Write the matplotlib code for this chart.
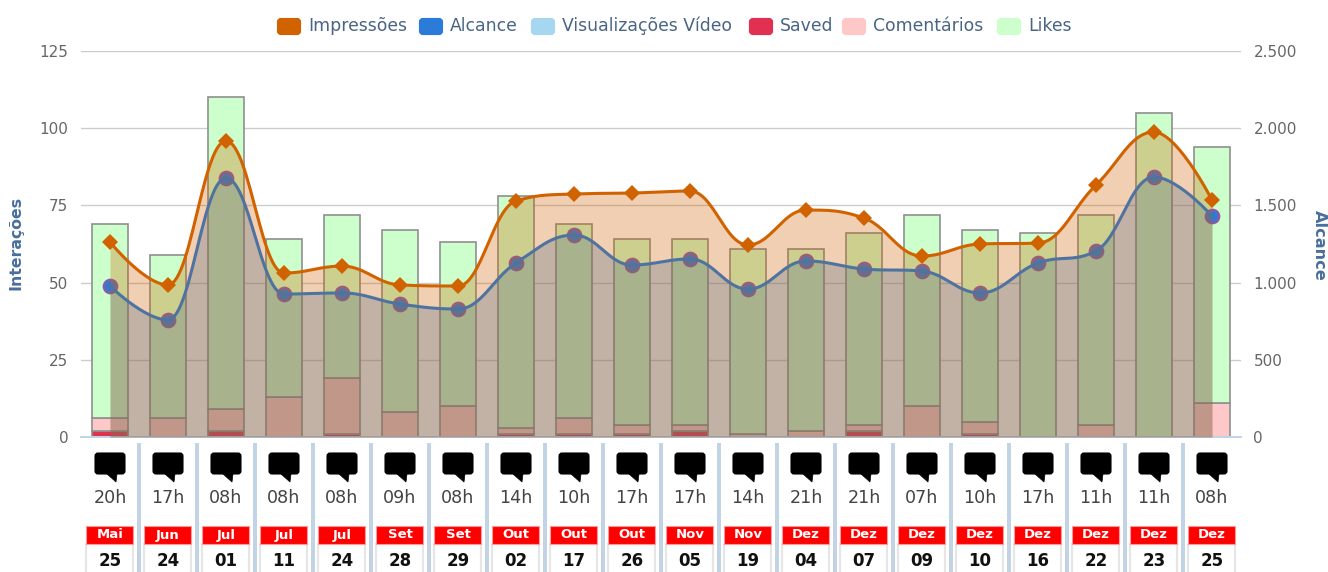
import numpy as np
import matplotlib
matplotlib.use("Agg")
import matplotlib.pyplot as plt
from matplotlib.patches import FancyBboxPatch, Polygon, Rectangle

saved = [2, 0, 2, 0, 1, 0, 0, 1, 1, 1, 2, 0, 0, 2, 0, 1, 0, 0, 0, 0]
comentarios = [4, 6, 7, 13, 18, 8, 10, 2, 5, 3, 2, 1, 2, 2, 10, 4, 0, 4, 0, 11]
likes = [63, 53, 101, 51, 53, 59, 53, 75, 63, 60, 60, 60, 59, 62, 62, 62, 66, 68, 105, 83]
impressoes = [1263, 985, 1917, 1062, 1107, 985, 978, 1529, 1574, 1580, 1593, 1244, 1470, 1418, 1172, 1250, 1256, 1632, 1975, 1535]
alcance = [978, 758, 1677, 926, 933, 861, 829, 1127, 1308, 1114, 1153, 958, 1140, 1088, 1075, 933, 1127, 1205, 1684, 1431]
horas = ["20h", "17h", "08h", "08h", "08h", "09h", "08h", "14h", "10h", "17h", "17h", "14h", "21h", "21h", "07h", "10h", "17h", "11h", "11h", "08h"]
meses = ["Mai", "Jun", "Jul", "Jul", "Jul", "Set", "Set", "Out", "Out", "Out", "Nov", "Nov", "Dez", "Dez", "Dez", "Dez", "Dez", "Dez", "Dez", "Dez"]
dias = ["25", "24", "01", "11", "24", "28", "29", "02", "17", "26", "05", "19", "04", "07", "09", "10", "16", "22", "23", "25"]
ticks_esq = [0, 25, 50, 75, 100, 125]
ticks_dir = [0, 500, 1000, 1500, 2000, 2500]
ticks_dir_txt = ["0", "500", "1.000", "1.500", "2.000", "2.500"]
legenda = [("Impressões", "#d16200", 277), ("Alcance", "#2b7bd9", 419), ("Visualizações Vídeo", "#a5d8f0", 531),
           ("Saved", "#e23050", 749), ("Comentários", "#ffc8c8", 842), ("Likes", "#ccffcc", 997)]

W, H = 1328, 572
L, R, T, B = 81, 1241, 51, 437


def spline(xs, ys, n=30):
    # same bezier smoothing as a highcharts spline series, overshoot limited
    xs = np.array(xs, dtype=float)
    ys = np.array(ys, dtype=float)
    left = [(x, y) for x, y in zip(xs, ys)]
    right = [(x, y) for x, y in zip(xs, ys)]
    for i in range(1, len(xs) - 1):
        lx = (1.5 * xs[i] + xs[i - 1]) / 2.5
        ly = (1.5 * ys[i] + ys[i - 1]) / 2.5
        rx = (1.5 * xs[i] + xs[i + 1]) / 2.5
        ry = (1.5 * ys[i] + ys[i + 1]) / 2.5
        c = (ry - ly) * (rx - xs[i]) / (rx - lx) + ys[i] - ry
        ly += c
        ry += c
        if ly > ys[i - 1] and ly > ys[i]:
            ly = max(ys[i - 1], ys[i])
            ry = 2 * ys[i] - ly
        elif ly < ys[i - 1] and ly < ys[i]:
            ly = min(ys[i - 1], ys[i])
            ry = 2 * ys[i] - ly
        if ry > ys[i + 1] and ry > ys[i]:
            ry = max(ys[i + 1], ys[i])
            ly = 2 * ys[i] - ry
        elif ry < ys[i + 1] and ry < ys[i]:
            ry = min(ys[i + 1], ys[i])
            ly = 2 * ys[i] - ry
        left[i] = (lx, ly)
        right[i] = (rx, ry)
    out_x, out_y = [], []
    t = np.linspace(0, 1, n)
    for i in range(len(xs) - 1):
        p0, p1, p2, p3 = (xs[i], ys[i]), right[i], left[i + 1], (xs[i + 1], ys[i + 1])
        out_x.extend((1 - t) ** 3 * p0[0] + 3 * (1 - t) ** 2 * t * p1[0] + 3 * (1 - t) * t ** 2 * p2[0] + t ** 3 * p3[0])
        out_y.extend((1 - t) ** 3 * p0[1] + 3 * (1 - t) ** 2 * t * p1[1] + 3 * (1 - t) * t ** 2 * p2[1] + t ** 3 * p3[1])
    return np.array(out_x), np.array(out_y)


fig = plt.figure(figsize=(W / 100, H / 100), dpi=100)
ax = fig.add_axes([L / W, 1 - B / H, (R - L) / W, (B - T) / H])
x = np.arange(len(saved))
s = np.array(saved)
c = np.array(comentarios)
l = np.array(likes)

borda = "#8f8f8f"
ax.bar(x, s, 0.62, color="#e23050", edgecolor=borda, linewidth=1.2, zorder=2)
ax.bar(x, c, 0.62, bottom=s, color="#ffc8c8", edgecolor=borda, linewidth=1.2, zorder=2)
ax.bar(x, l, 0.62, bottom=s + c, color="#ccffcc", edgecolor=borda, linewidth=1.2, zorder=2)
ax.set_xlim(-0.5, 19.5)
ax.set_ylim(0, 125)
ax.set_yticks(ticks_esq)
ax.set_xticks([])
ax.grid(axis="y", color="#cccccc", linewidth=1.0)
ax.set_axisbelow(True)
ax.tick_params(axis="y", length=0, pad=9, labelsize=11, labelcolor="#666666")
for sp in ax.spines.values():
    sp.set_visible(False)
ax.spines["bottom"].set_visible(True)
ax.spines["bottom"].set_color("#c3d3e6")
ax.spines["bottom"].set_linewidth(1.4)

ax2 = ax.twinx()
ax2.set_ylim(0, 2500)
ax2.set_yticks(ticks_dir)
ax2.set_yticklabels(ticks_dir_txt)
ax2.tick_params(axis="y", length=0, pad=9, labelsize=11, labelcolor="#666666")
for sp in ax2.spines.values():
    sp.set_visible(False)

xi, yi = spline(x, impressoes)
xa, ya = spline(x, alcance)
ax2.plot(x, alcance, "o", ms=9.5, color="#2b7bd9", mec="#8a5aa8", mew=1.8, zorder=2, clip_on=False)
ax2.fill_between(xi, 0, yi, color="#d16200", alpha=0.3, linewidth=0, zorder=3)
ax2.fill_between(xa, 0, ya, color="#55708a", alpha=0.3, linewidth=0, zorder=3)
ax2.plot(xa, ya, color="#4f73a0", linewidth=2.2, zorder=4)
ax2.plot(xi, yi, color="#d16200", linewidth=2.2, zorder=5)
ax2.plot(x, impressoes, "D", ms=8, color="#d16200", mew=0, zorder=6, clip_on=False)

# overlay in pixel coords for the legend and the boxes below the axis
ov = fig.add_axes([0, 0, 1, 1], facecolor="none")
ov.set_xlim(0, W)
ov.set_ylim(H, 0)
ov.axis("off")

for nome, cor, px in legenda:
    ov.add_patch(FancyBboxPatch((px + 2, 20), 20, 13, boxstyle="round,pad=0,rounding_size=2", fc=cor, ec=cor, lw=3))
    ov.text(px + 31, 26, nome, color="#4a6485", fontsize=12.4, va="center", ha="left")

ov.text(16, 243, "Interações", rotation=90, color="#4a6f9c", fontsize=11.3, fontweight="bold", ha="center", va="center")
ov.text(1319, 245, "Alcance", rotation=270, color="#4a6f9c", fontsize=11.6, fontweight="bold", ha="center", va="center")

for i in range(len(horas)):
    cx = 110 + 58 * i
    if i < len(horas) - 1:
        ov.add_patch(Rectangle((cx + 27, 443), 4, H - 443, fc="#c3d3e6", ec="none"))
    ov.add_patch(FancyBboxPatch((cx - 14.5, 453.5), 29, 20, boxstyle="round,pad=0,rounding_size=2.5", fc="black", ec="black", lw=1.5))
    ov.add_patch(Polygon([(cx - 3, 474), (cx + 6, 482), (cx + 7, 474)], fc="black", ec="black", lw=0.5))
    ov.text(cx, 498, horas[i], color="#444444", fontsize=12.6, ha="center", va="center")
    ov.add_patch(Rectangle((cx - 24, 544), 47, 40, fc="white", ec="#e6e6e6", lw=1.6))
    ov.add_patch(Rectangle((cx - 24, 526), 47, 18, fc="#ff0000", ec="#ff9a9a", lw=0.8))
    ov.text(cx, 535, meses[i], color="white", fontsize=9.5, fontweight="bold", ha="center", va="center")
    ov.text(cx, 561, dias[i], color="#111111", fontsize=12, fontweight="bold", ha="center", va="center")

fig.savefig("out.png", dpi=100)
